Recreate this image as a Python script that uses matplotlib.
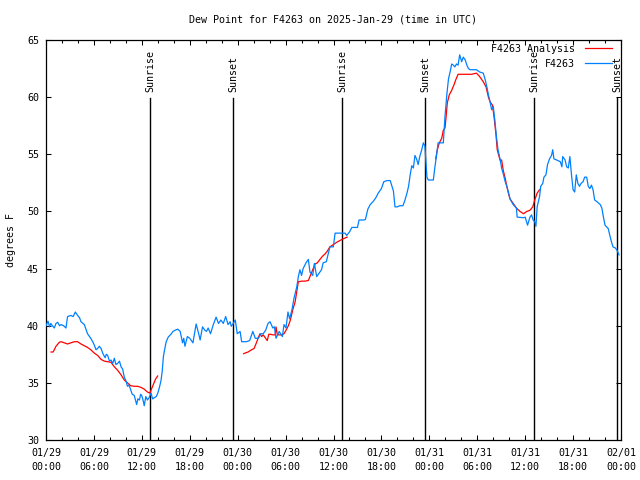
import numpy as np
import matplotlib
matplotlib.use("Agg")
import matplotlib.pyplot as plt
from matplotlib.ticker import MultipleLocator, FixedLocator, FixedFormatter

# ---------------- data (hours since 01/29 00:00 UTC) ----------------
obs_hours = [0.0, 0.25, 0.45, 0.6, 0.8, 1.04, 1.25, 1.46, 1.7, 1.88, 2.2, 2.5, 2.7, 3.1, 3.4, 3.67,
             3.96, 4.2, 4.38, 4.8, 5.0, 5.2, 5.6, 5.85, 6.05, 6.26, 6.45, 6.68, 6.9, 7.1, 7.4, 7.55,
             7.72, 7.95, 8.14, 8.35, 8.56, 8.75, 8.97, 9.2, 9.4, 9.6, 9.8, 10.0, 10.2, 10.4, 10.6,
             10.8, 11.05, 11.2, 11.35, 11.5, 11.7, 11.85, 11.98, 12.15, 12.3, 12.5, 12.7, 12.9,
             13.15, 13.35, 13.56, 13.8, 14.0, 14.2, 14.4, 14.55, 14.7, 14.85, 15.05, 15.3, 15.7,
             15.9, 16.15, 16.5, 16.8, 17.1, 17.25, 17.4, 17.7, 18.0, 18.2, 18.4, 18.6, 18.8, 19.1,
             19.3, 19.6, 19.9, 20.1, 20.3, 20.6, 20.95, 21.3, 21.6, 21.9, 22.2, 22.5, 22.8, 23.05,
             23.2, 23.4, 23.7, 23.95, 24.3, 24.5, 25.1, 25.5, 25.9, 26.2, 26.6, 26.9, 27.2, 27.5,
             27.8, 28.05, 28.4, 28.6, 28.8, 29.2, 29.6, 29.8, 30.05, 30.3, 30.5, 30.8, 31.05, 31.4,
             31.6, 31.8, 32.0, 32.2, 32.55, 32.85, 33.05, 33.4, 33.6, 33.9, 34.2, 34.5, 34.7, 35.1,
             35.35, 35.55, 35.98, 36.2, 36.8, 37.45, 37.65, 38.0, 38.3, 39.0, 39.2, 39.8, 40.0,
             40.3, 40.6, 41.0, 41.3, 41.6, 42.0, 42.3, 42.7, 43.1, 43.5, 43.7, 44.0, 44.3, 44.7,
             44.95, 45.2, 45.4, 45.6, 45.8, 46.0, 46.2, 46.4, 46.6, 46.8, 47.05, 47.25, 47.45, 47.7,
             47.87, 48.5, 48.7, 48.9, 49.1, 49.75, 49.96, 50.2, 50.4, 50.6, 50.8, 51.0, 51.2, 51.4,
             51.6, 51.8, 52.05, 52.25, 52.5, 52.7, 52.9, 53.1, 53.9, 54.3, 54.75, 54.97, 55.2, 55.4,
             55.6, 55.8, 56.0, 56.2, 56.4, 56.6, 56.85, 57.05, 57.25, 57.5, 57.7, 57.9, 58.1, 58.5,
             58.9, 59.0, 59.8, 60.0, 60.3, 60.6, 60.8, 61.0, 61.2, 61.35, 61.5, 61.8, 61.95, 62.2,
             62.35, 62.6, 62.8, 63.05, 63.3, 63.45, 63.6, 63.95, 64.4, 64.6, 64.7, 65.0, 65.2, 65.4,
             65.6, 65.8, 66.0, 66.2, 66.4, 66.6, 66.8, 67.0, 67.25, 67.45, 67.7, 67.9, 68.1, 68.3,
             68.5, 68.7, 69.0, 69.4, 69.6, 69.8, 70.0, 70.2, 70.4, 70.6, 70.8, 71.0, 71.3, 71.5, 71.75]
obs_dew = [40.0, 40.4, 39.9, 40.2, 40.0, 39.8, 40.2, 40.3, 40.0, 40.1, 40.0, 39.8, 40.8, 40.9, 40.8, 41.2,
           40.9, 40.7, 40.35, 40.1, 39.7, 39.3, 38.9, 38.6, 38.3, 37.9, 38.0, 38.2, 38.0, 37.6, 37.2, 37.5,
           37.4, 36.9, 37.0, 36.7, 37.15, 36.6, 36.7, 36.9, 36.4, 36.2, 35.5, 35.2, 34.7, 34.8, 34.4,
           34.0, 33.9, 33.5, 33.1, 33.6, 33.5, 34.0, 33.9, 33.5, 33.0, 33.8, 33.5, 33.7,
           34.1, 33.6, 33.7, 33.8, 34.1, 34.6, 35.2, 36.0, 37.3, 37.9, 38.6, 39.0, 39.3,
           39.5, 39.6, 39.7, 39.5, 38.5, 38.9, 38.2, 39.05, 38.9, 38.7, 38.5, 39.3, 40.15, 39.35,
           38.75, 39.9, 39.6, 39.5, 39.8, 39.3, 40.1, 40.75, 40.2, 40.5, 40.2, 40.8, 40.1, 40.35,
           39.95, 40.15, 40.5, 39.3, 39.5, 38.6, 38.6, 38.7, 39.5, 38.9, 38.9, 39.3, 39.3, 39.6,
           40.2, 40.35, 39.8, 39.9, 38.9, 39.5, 39.05, 40.1, 39.8, 41.2, 40.6, 41.4, 42.4, 43.4,
           44.3, 44.9, 44.4, 45.0, 45.5, 45.8, 44.7, 44.4, 45.45, 44.3, 44.6, 44.9, 45.5, 45.6,
           46.3, 46.9, 46.9, 48.1, 48.1, 48.1, 47.9, 48.2, 48.6, 48.6, 49.25, 49.25, 49.3,
           50.2, 50.6, 50.9, 51.2, 51.6, 52.0, 52.6, 52.7, 52.7, 51.8, 50.4, 50.4, 50.5, 50.5,
           51.0, 51.6, 52.2, 53.2, 54.0, 53.8, 54.9, 54.6, 54.1, 54.8, 55.4, 56.0, 55.7, 53.0,
           52.75, 52.75, 53.9, 54.9, 56.0, 56.0, 58.3, 60.3, 61.6, 62.2, 62.9, 62.8, 62.65, 62.9,
           62.8, 63.7, 63.1, 63.5, 63.25, 62.8, 62.5, 62.4, 62.4, 62.2, 62.1, 61.6, 60.9, 60.2,
           59.6, 58.9, 59.2, 58.0, 56.55, 55.4, 54.6, 53.8, 53.3, 52.6, 52.2, 51.7, 51.1, 50.6,
           50.3, 49.5, 49.45, 49.5, 48.8, 49.5, 49.7, 49.25, 49.1, 48.7, 50.4, 51.3, 52.2, 52.45,
           53.0, 53.2, 54.1, 54.6, 54.9, 55.4, 54.6, 54.5, 54.35, 53.9, 54.8, 54.5, 53.9, 53.8,
           54.8, 53.2, 51.9, 51.7, 53.2, 52.45, 52.2, 52.45, 52.6, 53.0, 53.0, 52.2, 52.0, 52.3,
           51.9, 51.0, 50.85, 50.6, 50.3, 49.5, 48.8, 48.65, 48.5, 47.9, 47.35, 46.9, 46.8, 46.6, 46.2]

# analysis series: three separate runs (NaN marks a gap)
ana_hours = [0.63, 0.9, 1.25, 1.67, 1.88, 2.3, 2.7, 3.1, 3.55, 3.96, 4.38, 4.8, 5.2, 5.6, 6.05, 6.47,
             6.9, 7.3, 7.72, 8.14, 8.56, 8.97, 9.4, 9.8, 10.2, 10.6, 11.05, 11.48, 11.9, 12.3, 12.7,
             13.0, 13.35, 13.7, 13.98,
             np.nan,
             24.75, 24.9, 25.3, 25.75, 26.05, 26.4, 26.6, 26.8, 27.0, 27.2, 27.5, 27.7, 27.9, 28.1,
             28.4, 28.7, 28.8, 28.97, 29.2, 29.5, 29.8, 30.05, 30.35, 30.6, 30.9, 31.2, 31.4, 31.6,
             32.0, 32.4, 32.85, 33.05, 33.4, 33.7, 33.97, 34.3, 34.65, 34.9, 35.2, 35.55, 35.98,
             36.4, 36.8, 37.2, 37.7,
             np.nan,
             48.8, 49.0, 49.25, 49.55, 49.75, 49.96, 50.1, 50.25, 50.5, 50.8, 51.1, 51.3, 51.6,
             52.7, 53.3, 53.9, 54.3, 54.75, 55.1, 55.4, 55.6, 55.9, 56.1, 56.35, 56.5, 56.85, 57.05,
             57.25, 57.5, 57.7, 57.9, 58.1, 58.5, 58.9, 59.35, 59.8, 60.2, 60.6, 60.95, 61.2, 61.5,
             61.8]
ana_dew = [37.7, 37.7, 38.2, 38.55, 38.6, 38.5, 38.4, 38.5, 38.6, 38.6, 38.4, 38.25, 38.1, 37.9, 37.6, 37.4,
           37.05, 36.9, 36.85, 36.8, 36.4, 36.1, 35.7, 35.25, 35.0, 34.75, 34.7, 34.7, 34.6, 34.45, 34.2,
           34.1, 34.7, 35.3, 35.6,
           np.nan,
           37.55, 37.6, 37.7, 37.9, 38.0, 38.6, 39.0, 39.3, 39.05, 39.2, 38.9, 38.7, 39.25, 39.25,
           39.2, 39.2, 39.9, 39.2, 39.2, 39.2, 39.3, 39.6, 40.0, 40.5, 41.4, 42.1, 43.0, 43.85,
           43.9, 43.9, 43.95, 44.3, 44.9, 45.4, 45.5, 45.8, 46.1, 46.25, 46.5, 46.9, 47.1,
           47.3, 47.45, 47.6, 47.75,
           np.nan,
           54.6, 55.4, 56.0, 56.4, 57.1, 57.3, 58.3, 59.5, 60.2, 60.6, 61.1, 61.5, 62.0,
           62.0, 62.0, 62.1, 61.8, 61.35, 60.9, 60.0, 59.6, 59.3, 58.3, 56.7, 55.4, 54.5, 54.5,
           53.6, 52.9, 52.2, 51.6, 51.1, 50.7, 50.3, 50.0, 49.8, 50.0, 50.1, 50.4, 51.0, 51.6,
           51.9]

sun_hours = [13.05, 23.45, 37.1, 47.45, 61.1, 71.5]
sun_labels = ["Sunrise", "Sunset", "Sunrise", "Sunset", "Sunrise", "Sunset"]

xtick_hours = [0, 6, 12, 18, 24, 30, 36, 42, 48, 54, 60, 66, 72]
xtick_labels = ["01/29\n00:00", "01/29\n06:00", "01/29\n12:00", "01/29\n18:00",
                "01/30\n00:00", "01/30\n06:00", "01/30\n12:00", "01/30\n18:00",
                "01/31\n00:00", "01/31\n06:00", "01/31\n12:00", "01/31\n18:00",
                "02/01\n00:00"]

# ---------------- plot ----------------
FONT = "DejaVu Sans Mono"
FS = 7.2
plt.rcParams["font.family"] = [FONT]
plt.rcParams["font.size"] = FS

fig = plt.figure(figsize=(6.4, 4.8), dpi=100)
ax = fig.add_axes([46 / 640, 40 / 480, (621 - 46) / 640, 400 / 480])

ax.plot(ana_hours, ana_dew, color="#ff0000", lw=0.9, label="F4263 Analysis", zorder=3)
ax.plot(obs_hours, obs_dew, color="#0080ff", lw=0.9, label="F4263", zorder=4)

line_top = 59.9
for h, lab in zip(sun_hours, sun_labels):
    ax.plot([h, h], [30, line_top], color="black", lw=1.0, zorder=2)
    ax.text(h, 60.45, lab, rotation=90, ha="center", va="bottom", fontsize=FS, zorder=5)

ax.set_xlim(0, 72)
ax.set_ylim(30, 65)
ax.xaxis.set_major_locator(FixedLocator(xtick_hours))
ax.xaxis.set_major_formatter(FixedFormatter(xtick_labels))
ax.xaxis.set_minor_locator(MultipleLocator(2))
ax.yaxis.set_major_locator(MultipleLocator(5))

ax.tick_params(axis="both", which="both", direction="in", top=True, right=True,
               width=0.75, colors="black", labelsize=FS)
ax.tick_params(axis="both", which="major", length=3.5)
ax.tick_params(axis="both", which="minor", length=2.5)
ax.tick_params(axis="x", which="major", pad=5.5)
ax.tick_params(axis="y", which="major", pad=5)
for lbl in ax.get_xticklabels():
    lbl.set_linespacing(1.5)
for s in ax.spines.values():
    s.set_linewidth(0.9)
    s.set_color("black")

ax.set_ylabel("degrees F", fontsize=FS, labelpad=8)
fig.text(333 / 640, 1 - 20 / 480, "Dew Point for F4263 on 2025-Jan-29 (time in UTC)",
         ha="center", va="center", fontsize=FS)

leg = ax.legend(loc="upper right", bbox_to_anchor=(1 - 9 / 575, 1 - 4 / 400),
                frameon=False, markerfirst=False, handlelength=2.7, handletextpad=1.0,
                borderpad=0, borderaxespad=0, labelspacing=0.5, fontsize=FS)
for t in leg.get_texts():
    t.set_ha("right")

fig.savefig("out.png", dpi=100)
